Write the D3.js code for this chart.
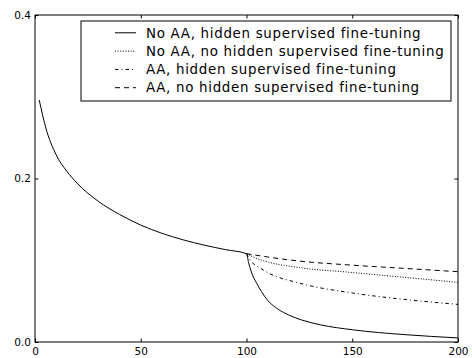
<!DOCTYPE html>
<html>
<head>
<meta charset="utf-8">
<script src="https://cdn.jsdelivr.net/npm/d3@7"></script>
<style>
  body { margin: 0; background: #fff; }
  svg { display: block; font-family: "DejaVu Sans", sans-serif; }
</style>
</head>
<body>
<div id="chart"></div>
<script>
// Data
// shared part, epochs 2..100
var xShared = [2, 5, 10, 15, 20, 30, 40, 50, 60, 70, 80, 90, 100];
var yShared = [0.296, 0.263, 0.229, 0.209, 0.194, 0.172, 0.156, 0.143, 0.133, 0.125, 0.1185, 0.113, 0.108];

// branches after epoch 100
var xNoAAHidden = [100, 101, 102, 103, 105, 107, 110, 115, 120, 126, 135, 150, 175, 200];
var yNoAAHidden = [0.108, 0.097, 0.088, 0.081, 0.071, 0.062, 0.051, 0.040, 0.033, 0.027, 0.021, 0.015, 0.009, 0.005];

var xNoAANoHidden = [100, 105, 110, 125, 150, 175, 200];
var yNoAANoHidden = [0.108, 0.102, 0.098, 0.091, 0.085, 0.079, 0.073];

var xAAHidden = [100, 102, 105, 110, 125, 150, 175, 200];
var yAAHidden = [0.108, 0.099, 0.093, 0.085, 0.072, 0.060, 0.052, 0.046];

var xAANoHidden = [100, 110, 125, 150, 175, 200];
var yAANoHidden = [0.108, 0.104, 0.099, 0.094, 0.090, 0.086];

var legendLabels = [
  "No AA, hidden supervised fine-tuning",
  "No AA, no hidden supervised fine-tuning",
  "AA, hidden supervised fine-tuning",
  "AA, no hidden supervised fine-tuning"
];
var dashes = [null, "1,1.6", "3.5,3,1,3", "5,4"];

var xTicks = [0, 50, 100, 150, 200];
var yTicks = [0.0, 0.2, 0.4];

// Parameters
var width = 472, height = 358;
var margin = {left: 35, right: 14, top: 15, bottom: 16};
var plotW = width - margin.left - margin.right,
    plotH = height - margin.top - margin.bottom;
var fontFamily = "'DejaVu Sans', sans-serif";

var svg = d3.select("#chart").append("svg")
    .attr("width", width)
    .attr("height", height);

var g = svg.append("g")
    .attr("transform", "translate(" + margin.left + "," + margin.top + ")");

var x = d3.scaleLinear().domain([0, 200]).range([0, plotW]);
var y = d3.scaleLinear().domain([0, 0.4]).range([plotH, 0]);

function zip(xs, ys) { return xs.map(function(v, i) { return [v, ys[i]]; }); }

// the "no AA, hidden" run continues the shared curve; the others branch at 100
var series = [
  zip(xShared, yShared).concat(zip(xNoAAHidden, yNoAAHidden).slice(1)),
  zip(xNoAANoHidden, yNoAANoHidden),
  zip(xAAHidden, yAAHidden),
  zip(xAANoHidden, yAANoHidden)
];

var line = d3.line()
    .x(function(d) { return x(d[0]); })
    .y(function(d) { return y(d[1]); })
    .curve(d3.curveMonotoneX);

g.selectAll(".series")
  .data(series)
  .enter().append("path")
    .attr("class", "series")
    .attr("d", line)
    .attr("fill", "none")
    .attr("stroke", "#000")
    .attr("stroke-width", 1)
    .attr("stroke-dasharray", function(d, i) { return dashes[i]; });

// Axes, ticks pointing inward
var tickLen = 3.5;
var fmtY = d3.format(".1f");

var bottomAxis = g.append("g")
    .attr("transform", "translate(0," + plotH + ")")
    .call(d3.axisBottom(x).tickValues(xTicks).tickSizeInner(-tickLen).tickSizeOuter(0).tickPadding(6));
var topAxis = g.append("g")
    .call(d3.axisTop(x).tickValues(xTicks).tickSizeInner(-tickLen).tickSizeOuter(0).tickFormat(""));
var leftAxis = g.append("g")
    .call(d3.axisLeft(y).tickValues(yTicks).tickSizeInner(-tickLen).tickSizeOuter(0).tickPadding(4).tickFormat(fmtY));
var rightAxis = g.append("g")
    .attr("transform", "translate(" + plotW + ",0)")
    .call(d3.axisRight(y).tickValues(yTicks).tickSizeInner(-tickLen).tickSizeOuter(0).tickFormat(""));

[bottomAxis, topAxis, leftAxis, rightAxis].forEach(function(a) {
  a.attr("font-family", null).attr("font-size", null);
  a.select(".domain").remove();
  a.selectAll("line").attr("stroke", "#000").attr("stroke-width", 1);
  a.selectAll("text")
    .style("font-family", fontFamily)
    .style("font-size", "10.5px")
    .attr("fill", "#000");
});
bottomAxis.selectAll("text").attr("dy", "0.71em");

// frame
g.append("rect")
    .attr("width", plotW)
    .attr("height", plotH)
    .attr("fill", "none")
    .attr("stroke", "#000")
    .attr("stroke-width", 1);

// Legend
var legend = svg.append("g")
    .attr("transform", "translate(81,21)");

legend.append("rect")
    .attr("width", 370)
    .attr("height", 80)
    .attr("fill", "#fff")
    .attr("stroke", "#000")
    .attr("stroke-width", 1);

var rows = legend.selectAll(".row")
  .data(legendLabels)
  .enter().append("g")
    .attr("class", "row")
    .attr("transform", function(d, i) { return "translate(0," + (11.8 + i * 18.3) + ")"; });

rows.append("line")
    .attr("x1", 34).attr("x2", 55)
    .attr("stroke", "#000")
    .attr("stroke-width", 1)
    .attr("stroke-dasharray", function(d, i) { return dashes[i]; });

rows.append("text")
    .attr("x", 65)
    .attr("dy", "0.35em")
    .text(function(d) { return d; })
    .style("font-family", fontFamily)
    .style("font-size", "13.4px")
    .style("letter-spacing", "0.7px")
    .attr("fill", "#000");
</script>
</body>
</html>
